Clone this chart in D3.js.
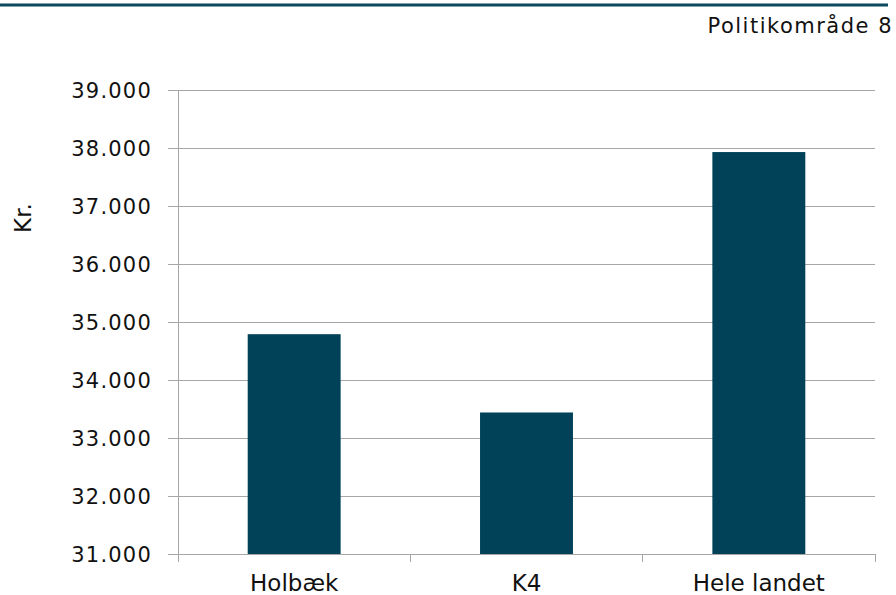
<!DOCTYPE html>
<html>
<head>
<meta charset="utf-8">
<script src="https://cdn.jsdelivr.net/npm/d3@7"></script>
<style>
  body { margin: 0; background: #fff; }
  svg { display: block; }
  text { font-family: "DejaVu Sans", Verdana, sans-serif; fill: #111; }
</style>
</head>
<body>
<div id="chart"></div>
<script>
// ---------- data ----------
const categories = ["Holbæk", "K4", "Hele landet"];
const values = [34790, 33440, 37930];
const yTicks = [31000, 32000, 33000, 34000, 35000, 36000, 37000, 38000, 39000];
const titleText = "Politikområde 8";
const yLabel = "Kr.";

// ---------- layout ----------
const width = 896, height = 595;
const plot = { left: 178, right: 875, top: 90, bottom: 554 };
const barColor = "#024259";
const gridColor = "#a6a6a6";

const svg = d3.select("#chart").append("svg")
  .attr("width", width)
  .attr("height", height);

// danish number format: 39.000
const da = d3.formatLocale({ decimal: ",", thousands: ".", grouping: [3], currency: ["", " kr."] });
const fmt = da.format(",.0f");

const x = d3.scaleBand()
  .domain(categories)
  .range([plot.left, plot.right])
  .paddingInner(0.6)
  .paddingOuter(0.3);

const y = d3.scaleLinear()
  .domain([31000, 39000])
  .range([plot.bottom, plot.top]);

// top rule
svg.append("line")
  .attr("x1", 0).attr("x2", 888)
  .attr("y1", 5).attr("y2", 5)
  .attr("stroke", "#0b4a5e")
  .attr("stroke-width", 3);

// title
svg.append("text")
  .attr("x", 893).attr("y", 33)
  .attr("text-anchor", "end")
  .style("font-size", "21px")
  .style("letter-spacing", "1.5px")
  .text(titleText);

// gridlines + y ticks
const yAxis = d3.axisLeft(y)
  .tickValues(yTicks)
  .tickSize(plot.right - plot.left + 10)
  .tickPadding(16)
  .tickFormat(fmt);

const gy = svg.append("g")
  .attr("transform", `translate(${plot.right},0)`)
  .call(yAxis);
gy.select(".domain").remove();
gy.selectAll(".tick line").attr("stroke", gridColor).attr("shape-rendering", "crispEdges");
gy.selectAll(".tick text")
  .attr("dy", "0.36em")
  .style("font-size", "21px")
  .style("letter-spacing", "1.2px")
  .style("font-family", "\"DejaVu Sans\", Verdana, sans-serif")
  .attr("fill", "#111");

// left axis line
svg.append("line")
  .attr("x1", plot.left).attr("x2", plot.left)
  .attr("y1", plot.top).attr("y2", plot.bottom + 8)
  .attr("stroke", gridColor)
  .attr("shape-rendering", "crispEdges");

// bars
svg.selectAll("rect.bar")
  .data(categories)
  .join("rect")
  .attr("class", "bar")
  .attr("x", (d) => x(d))
  .attr("width", x.bandwidth())
  .attr("y", (d, i) => y(values[i]))
  .attr("height", (d, i) => y(31000) - y(values[i]))
  .attr("fill", barColor);

// x axis with category boundary ticks
const boundaries = d3.range(categories.length + 1).map(i => plot.left + i * (plot.right - plot.left) / categories.length);
svg.append("line")
  .attr("x1", plot.left).attr("x2", plot.right)
  .attr("y1", plot.bottom).attr("y2", plot.bottom)
  .attr("stroke", gridColor)
  .attr("shape-rendering", "crispEdges");
svg.selectAll("line.xtick")
  .data(boundaries.slice(1))
  .join("line")
  .attr("class", "xtick")
  .attr("x1", d => d).attr("x2", d => d)
  .attr("y1", plot.bottom).attr("y2", plot.bottom + 8)
  .attr("stroke", gridColor)
  .attr("shape-rendering", "crispEdges");

svg.selectAll("text.xlab")
  .data(categories)
  .join("text")
  .attr("class", "xlab")
  .attr("x", d => x(d) + x.bandwidth() / 2)
  .attr("y", 591)
  .attr("text-anchor", "middle")
  .style("font-size", "23px")
  .text(d => d);

// y axis title
svg.append("text")
  .attr("transform", "translate(31,218) rotate(-90)")
  .attr("text-anchor", "middle")
  .style("font-size", "23px")
  .text(yLabel);
</script>
</body>
</html>
